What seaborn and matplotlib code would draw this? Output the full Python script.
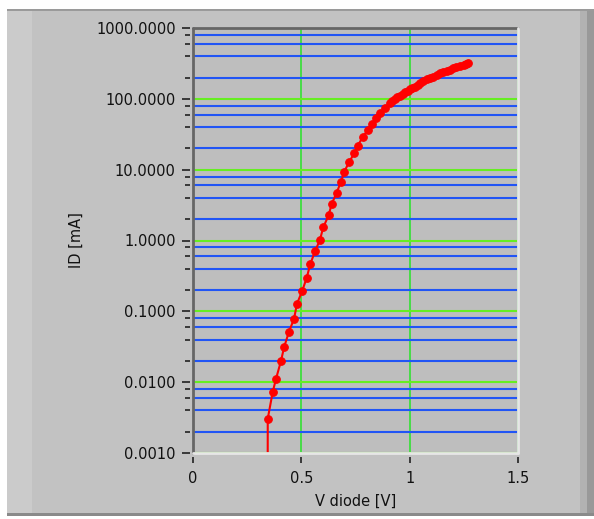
import matplotlib
matplotlib.use("Agg")
import matplotlib.pyplot as plt
import matplotlib.ticker as mticker
from matplotlib.patches import Rectangle
import seaborn as sns

# diode sweep
v_diode = [0.344, 0.345, 0.368, 0.383, 0.406, 0.421, 0.443, 0.466, 0.480, 0.504,
           0.525, 0.541, 0.563, 0.586, 0.601, 0.626, 0.640, 0.663, 0.683, 0.698,
           0.721, 0.744, 0.760, 0.783, 0.806, 0.825, 0.845, 0.863, 0.886, 0.909,
           0.920, 0.932, 0.943, 0.955, 0.967, 0.978, 0.990, 1.002, 1.013, 1.025,
           1.037, 1.048, 1.063, 1.079, 1.094, 1.109, 1.125, 1.140, 1.155, 1.171,
           1.186, 1.201, 1.216, 1.232, 1.250, 1.262, 1.271]
i_diode = [0.00001, 0.00305, 0.0073, 0.0111, 0.0199, 0.0316, 0.0515, 0.078, 0.128, 0.194,
           0.299, 0.461, 0.703, 1.02, 1.53, 2.27, 3.27, 4.73, 6.76, 9.35,
           12.9, 17.0, 21.8, 28.6, 36.3, 44.2, 53.1, 62.5, 73.5, 86.5,
           92, 98.5, 105, 111, 118, 124, 130, 136, 142, 148,
           157, 166, 178, 189, 197, 205, 217, 229, 239, 249,
           259, 270, 282, 294, 305, 312, 318]

x_ticks = [0, 0.5, 1, 1.5]
x_labels = ["0", "0.5", "1", "1.5"]
y_major = [0.001, 0.01, 0.1, 1, 10, 100, 1000]

W, H = 594, 519
sns.set_style("ticks")
plt.rcParams["font.family"] = ["DejaVu Sans"]
fig = plt.figure(figsize=(W / 100, H / 100), dpi=100)
fig.patch.set_facecolor("white")


def px_rect(x0, y0, x1, y1, color):
    # rectangle in pixel coords (top-left origin) drawn on the figure
    fig.patches.append(Rectangle((x0 / W, 1 - y1 / H), (x1 - x0) / W, (y1 - y0) / H,
                                 transform=fig.transFigure, facecolor=color,
                                 edgecolor="none", zorder=-10))


# LabVIEW style panel
px_rect(7, 9, W, 516, "#c2c2c2")
px_rect(7, 11, 32, 514, "#cbcbcb")
px_rect(580, 11, 587, 514, "#b2b2b2")
px_rect(587, 11, W, 514, "#999999")
px_rect(7, 9, W, 11, "#9a9a9a")
px_rect(7, 513, W, 516, "#8a8a8a")

ax = fig.add_axes([193 / W, 1 - 453 / H, 325 / W, 425 / H])
ax.set_facecolor("#bebebe")

ax.set_yscale("log")
ax.set_xlim(0, 1.5)
ax.set_ylim(0.001, 1000)

# grid
ax.yaxis.set_major_locator(mticker.FixedLocator(y_major))
ax.yaxis.set_minor_locator(mticker.LogLocator(base=10, subs=[2, 4, 6, 8], numticks=20))
ax.yaxis.set_major_formatter(mticker.FuncFormatter(lambda v, p: f"{v:.4f}"))
ax.yaxis.set_minor_formatter(mticker.NullFormatter())
ax.set_xticks(x_ticks)
ax.set_xticklabels(x_labels)

ax.grid(False)
ax.grid(which="minor", axis="y", color="#2155f5", lw=1.5, zorder=1)
ax.grid(which="major", axis="y", color="#66ee22", lw=1.5, zorder=1)
ax.grid(which="major", axis="x", color="#33e033", lw=1.2, zorder=1)

sns.lineplot(x=v_diode, y=i_diode, sort=False, ax=ax, color="red", lw=1.5,
             marker="o", markersize=5.5, markeredgecolor="red", zorder=5)

# ticks sit slightly off the plot border
for s in ["top", "right"]:
    ax.spines[s].set_visible(False)
ax.spines["left"].set_position(("outward", 2.2))
ax.spines["bottom"].set_position(("outward", 3))
ax.spines["left"].set_visible(False)
ax.spines["bottom"].set_visible(False)

ax.tick_params(axis="y", which="major", length=5.8, width=1.2, color="#222222",
               pad=4.5, labelsize=10.5, labelcolor="#111111")
ax.tick_params(axis="y", which="minor", length=3.6, width=1.2, color="#222222")
ax.tick_params(axis="x", which="major", length=4.3, width=1.2, color="#222222",
               pad=6, labelsize=10.5, labelcolor="#111111")

# plot border: dark top/left, light bottom/right
ax.plot([0, 0], [0, 1], transform=ax.transAxes, color="#666666", lw=2, clip_on=False, zorder=6)
ax.plot([0, 1], [1, 1], transform=ax.transAxes, color="#666666", lw=2, clip_on=False, zorder=6)
ax.plot([1, 1], [0, 1], transform=ax.transAxes, color="#e6e6e6", lw=2, clip_on=False, zorder=6)
ax.plot([0, 1], [0, 0], transform=ax.transAxes, color="#e6e6e6", lw=2, clip_on=False, zorder=6)

ax.set_xlabel("V diode [V]", fontsize=10.5, color="#111111")
ax.set_ylabel("ID [mA]", fontsize=10.5, color="#111111")
ax.xaxis.set_label_coords(0.5, -0.095)
ax.yaxis.set_label_coords(-0.335, 0.5)

fig.savefig("out.png", dpi=100, facecolor=fig.get_facecolor())
